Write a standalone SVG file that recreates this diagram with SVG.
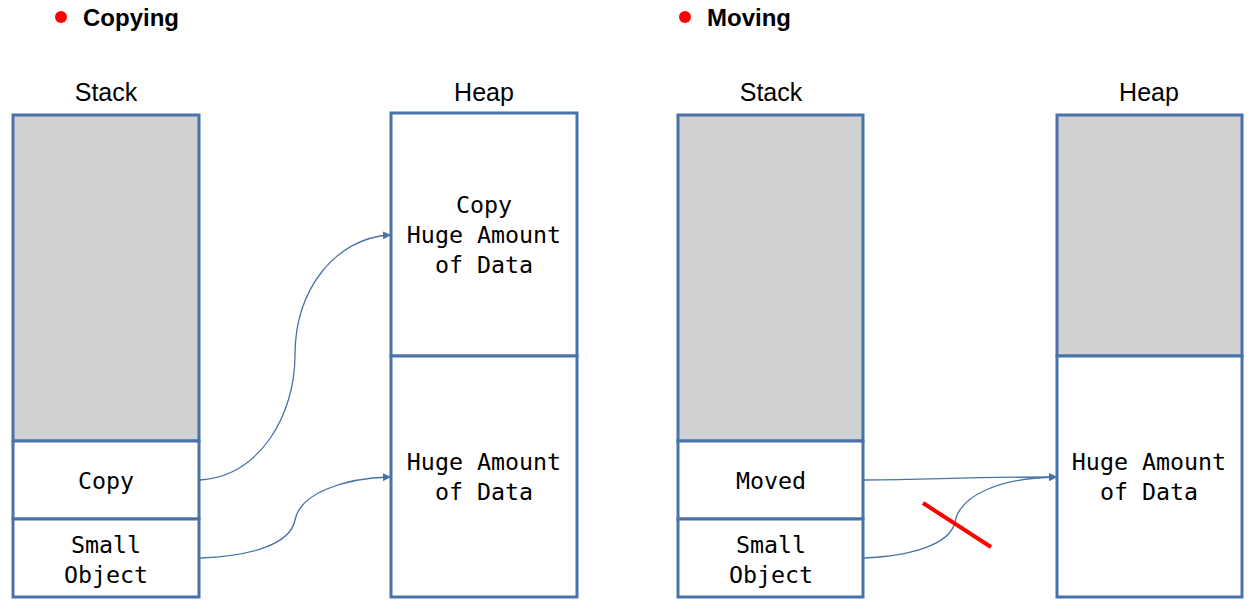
<svg xmlns="http://www.w3.org/2000/svg" width="1251" height="609" viewBox="0 0 1251 609">
<style>
.box{fill:#fff;stroke:#4a72aa;stroke-width:3}
.gray{fill:#d0d1d3;stroke:#4a72aa;stroke-width:3}
.mono{font-family:"DejaVu Sans Mono","Liberation Mono",monospace;font-size:23.3px;fill:#000;text-anchor:middle}
.lbl{font-family:"Liberation Sans",Arial,sans-serif;font-size:25px;fill:#000;text-anchor:middle}
.title{font-family:"Liberation Sans",Arial,sans-serif;font-size:24px;font-weight:bold;fill:#000}
.conn{fill:none;stroke:#4a72aa;stroke-width:1.3;marker-end:url(#arr)}
</style>
<defs>
<marker id="arr" markerWidth="8" markerHeight="8" refX="7" refY="4" orient="auto" markerUnits="userSpaceOnUse">
<path d="M0,0 L8,4 L0,8 Z" fill="#4a72aa"/>
</marker>
</defs>
<rect width="1251" height="609" fill="#fff"/>
<g id="title-copying">
<circle cx="61" cy="17" r="6" fill="#f00"/>
<text class="title" x="83" y="26">Copying</text>
</g>
<g id="title-moving">
<circle cx="685" cy="17" r="6" fill="#f00"/>
<text class="title" x="707" y="26">Moving</text>
</g>
<g id="label-stack1"><text class="lbl" x="106" y="101">Stack</text></g>
<g id="label-heap1"><text class="lbl" x="484" y="101">Heap</text></g>
<g id="label-stack2"><text class="lbl" x="771" y="101">Stack</text></g>
<g id="label-heap2"><text class="lbl" x="1149" y="101">Heap</text></g>

<g id="stack1-free"><rect class="gray" x="13" y="115" width="186" height="326"/></g>
<g id="stack1-copy"><rect class="box" x="13" y="441" width="186" height="78"/><text class="mono" x="106" y="489">Copy</text></g>
<g id="stack1-small"><rect class="box" x="13" y="519" width="186" height="78"/><text class="mono" x="106" y="553">Small</text><text class="mono" x="106" y="583">Object</text></g>

<g id="heap1-copy"><rect class="box" x="391" y="113" width="186" height="243"/><text class="mono" x="484" y="213">Copy</text><text class="mono" x="484" y="243">Huge Amount</text><text class="mono" x="484" y="273">of Data</text></g>
<g id="heap1-data"><rect class="box" x="391" y="356" width="186" height="241"/><text class="mono" x="484" y="470">Huge Amount</text><text class="mono" x="484" y="500">of Data</text></g>

<g id="stack2-free"><rect class="gray" x="678" y="115" width="185" height="326"/></g>
<g id="stack2-moved"><rect class="box" x="678" y="441" width="185" height="78"/><text class="mono" x="771" y="489">Moved</text></g>
<g id="stack2-small"><rect class="box" x="678" y="519" width="185" height="78"/><text class="mono" x="771" y="553">Small</text><text class="mono" x="771" y="583">Object</text></g>

<g id="heap2-free"><rect class="gray" x="1057" y="115" width="185" height="241"/></g>
<g id="heap2-data"><rect class="box" x="1057" y="356" width="185" height="241"/><text class="mono" x="1149" y="470">Huge Amount</text><text class="mono" x="1149" y="500">of Data</text></g>

<g id="connectors">
<path class="conn" d="M200,480 C260,476 295,415 295,355 C295,290 335,238 390,235"/>
<path class="conn" d="M200,558 C250,556 290,545 295,520 C300,493 345,478 390,477"/>
<path class="conn" d="M864,480 C930,480 960,477 1056,477"/>
<path class="conn" d="M864,558 C910,556 950,545 955,522 C960,495 1000,478 1056,477"/>
</g>
<g id="cross">
<line x1="923" y1="503" x2="991" y2="547" stroke="#f00" stroke-width="4"/>
</g>
</svg>
